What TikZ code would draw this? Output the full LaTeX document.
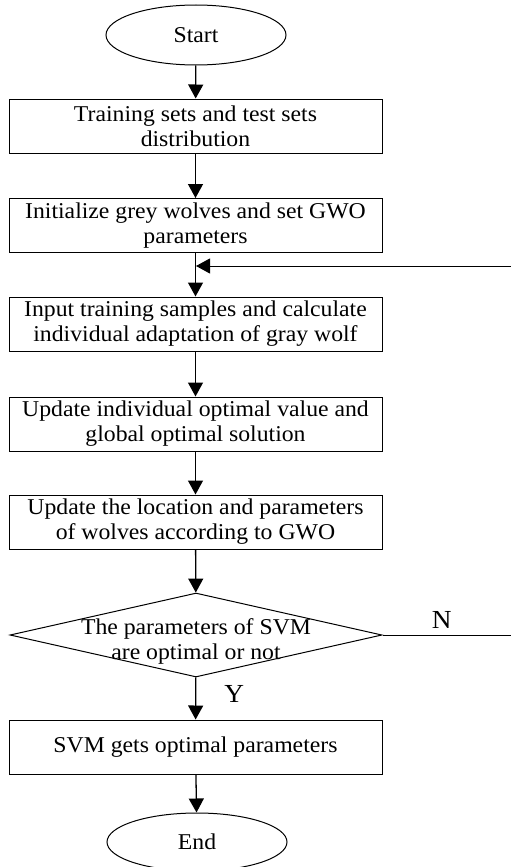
\documentclass[tikz,border=0pt]{standalone}
\usepackage{fontspec}
\setmainfont{Liberation Serif}[FakeStretch=1.05]
\usetikzlibrary{arrows.meta,shapes.geometric}
\begin{document}
\begin{tikzpicture}[x=1pt,y=-1pt,
  box/.style={draw,line width=1pt,minimum width=373pt,minimum height=54pt,inner sep=0pt,align=center,
    font=\fontsize{22.6}{25}\selectfont},
  term/.style={draw,line width=1pt,ellipse,minimum width=180pt,minimum height=60pt,inner sep=0pt,
    font=\fontsize{22.6}{25}\selectfont},
  flow/.style={line width=1.3pt,-{Triangle[width=15pt,length=14pt]}},
  lbl/.style={font=\fontsize{26}{28}\selectfont,inner sep=0pt}]
\useasboundingbox (0,0) rectangle (511,867);
\node[term] (start) at (196,35) {Start};
\node[box] (b1) at (195.5,126) {Training sets and test sets\\distribution};
\node[box] (b2) at (195.5,225.5) {Initialize grey wolves and set GWO\\parameters};
\node[box] (b3) at (195.5,324) {Input training samples and calculate\\individual adaptation of gray wolf};
\node[box] (b4) at (195.5,424) {Update individual optimal value and\\global optimal solution};
\node[box] (b5) at (195.5,522) {Update the location and parameters\\of wolves according to GWO};
\node[draw,line width=1pt,diamond,aspect=4.43,minimum width=372pt,minimum height=84pt,inner sep=0pt] (dec) at (196,635) {};
\node[align=center,inner sep=0pt,font=\fontsize{22.6}{25}\selectfont] (dect) at (196,641) {The parameters of SVM\\are optimal or not};
\node[box] (b6) at (195.5,747) {SVM gets optimal parameters};
\node[term,minimum height=58pt] (end) at (197,842) {End};
\coordinate (j) at (196,266);
\coordinate (rb) at (514,635);
\coordinate (rt) at (514,266);
\draw[flow] (start) -- (b1);
\draw[flow] (b1) -- (b2);
\draw[flow] (b2) -- (b3);
\draw[flow] (b3) -- (b4);
\draw[flow] (b4) -- (b5);
\draw[flow] (b5) -- (dec);
\draw[flow] (dec) -- node[lbl,right=28pt,pos=0.4] (y) {Y} (b6);
\draw[flow] (b6) -- (end);
\draw[line width=1pt] (dec.east) -- node[lbl,above=6pt,pos=0.45] (n) {N} (rb) -- (rt);
\draw[line width=1pt,-{Triangle[width=15pt,length=14pt]}] (rt) -- (j);
\end{tikzpicture}
\end{document}
